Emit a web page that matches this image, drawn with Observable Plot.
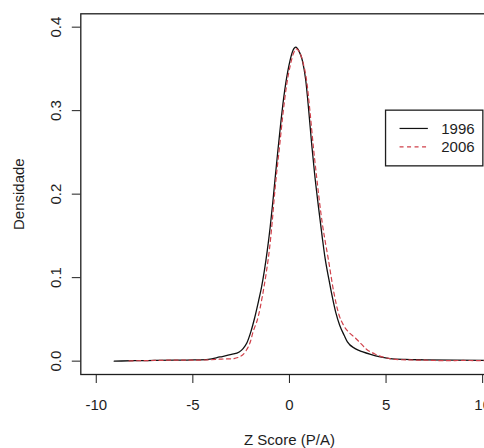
<!DOCTYPE html>
<html>
<head>
<meta charset="utf-8">
<script src="https://cdn.jsdelivr.net/npm/d3@7"></script>
<script src="https://cdn.jsdelivr.net/npm/@observablehq/plot@0.6"></script>
<style>
  html, body { margin: 0; padding: 0; background: #fff; }
  #chart { position: relative; width: 484px; height: 448px; overflow: hidden; }
</style>
</head>
<body>
<div id="chart"></div>
<script>
// Series names
const seriesNames = ["1996", "2006"];

// 1996 density curve (x = Z score, y = density)
const x1996 = [-9.07,-8,-7,-6,-5,-4.2,-3.6,-3.0,-2.6,-2.4,-2.2,-2.0,-1.8,-1.6,-1.45,-1.3,-1.15,-1.0,-0.85,-0.72,-0.6,-0.45,-0.3,-0.19,0.03,0.18,0.33,0.5,0.67,0.84,1.01,1.15,1.3,1.5,1.7,1.84,2.05,2.2,2.4,2.6,2.83,3.0,3.4,3.8,4.2,4.7,5.2,6,7,8.5,10.5,11];
const y1996 = [0,0.0005,0.0008,0.0011,0.0015,0.0022,0.005,0.008,0.011,0.015,0.022,0.035,0.052,0.072,0.088,0.108,0.132,0.16,0.193,0.224,0.252,0.285,0.315,0.333,0.36,0.372,0.376,0.371,0.36,0.337,0.297,0.26,0.225,0.185,0.148,0.124,0.097,0.079,0.058,0.043,0.031,0.023,0.015,0.011,0.008,0.005,0.003,0.002,0.0016,0.0012,0.0008,0.0007];

// 2006 density curve
const x2006 = [-8.3,-7,-6,-5,-4.2,-3.5,-3.0,-2.6,-2.26,-2.0,-1.91,-1.62,-1.4,-1.2,-1.03,-0.9,-0.75,-0.49,-0.35,-0.15,0.05,0.2,0.35,0.5,0.7,0.9,1.05,1.24,1.4,1.7,1.93,2.02,2.3,2.57,2.8,3.1,3.4,3.7,4.0,4.4,5.2,6,7,8,9,10.5,11];
const y2006 = [0.0003,0.0008,0.0012,0.0012,0.0015,0.0025,0.0028,0.005,0.012,0.025,0.033,0.053,0.078,0.106,0.135,0.165,0.205,0.262,0.293,0.33,0.355,0.368,0.374,0.371,0.358,0.334,0.302,0.256,0.222,0.165,0.133,0.121,0.082,0.055,0.043,0.034,0.028,0.021,0.014,0.0088,0.003,0.0015,0.0012,0.0005,0.0008,0.0005,0.0005];

// Axis ticks and labels
const xTicks = [-10, -5, 0, 5, 10];
const yTicks = [0, 0.1, 0.2, 0.3, 0.4];
const xLabel = "Z Score (P/A)";
const yLabel = "Densidade";
const legendAnchor = [5, 0.3]; // legend top-left in data units

const data = [
  ...x1996.map((x, i) => ({x, y: y1996[i], s: seriesNames[0]})),
  ...x2006.map((x, i) => ({x, y: y2006[i], s: seriesNames[1]}))
];

const font = "'Liberation Sans', Arial, Helvetica, sans-serif";
const ink = "#1e1e1e";
const red = "#d0404a";

const plot = Plot.plot({
  width: 484,
  height: 448,
  marginLeft: 80.3,
  marginRight: -13.6,
  marginTop: 13.3,
  marginBottom: 74,
  style: {fontFamily: font, fontSize: "15px", color: ink, background: "#fff"},
  x: {domain: [-10.8, 10.8]},
  y: {domain: [-0.016, 0.416]},
  marks: [
    Plot.line(data.filter(d => d.s === seriesNames[0]), {x: "x", y: "y", stroke: "#111", strokeWidth: 1.3, curve: "monotone-x", clip: true}),
    Plot.line(data.filter(d => d.s === seriesNames[1]), {x: "x", y: "y", stroke: red, strokeWidth: 1.2, strokeDasharray: "4,3.5", curve: "monotone-x", clip: true}),
    Plot.frame({stroke: ink, strokeWidth: 1.3}),
    Plot.axisX({ticks: xTicks, tickSize: 9, tickPadding: 16, fontSize: 15, label: null, stroke: ink, fill: ink, tickFormat: d => String(d).replace("−", "-")}),
    Plot.axisY({ticks: yTicks, tickSize: 8.5, label: null, stroke: ink, tickFormat: () => ""}),
    Plot.text(yTicks, {y: d => d, text: d => d.toFixed(1), frameAnchor: "left", rotate: -90, dx: -25, textAnchor: "middle", lineAnchor: "middle", fontSize: 15, fill: ink}),
    Plot.text([xLabel], {text: d => d, frameAnchor: "bottom", dy: 65.5, lineAnchor: "middle", fontSize: 15, fill: ink}),
    Plot.text([yLabel], {text: d => d, frameAnchor: "left", rotate: -90, dx: -62, lineAnchor: "middle", textAnchor: "middle", fontSize: 15, fill: ink})
  ]
});

document.getElementById("chart").appendChild(plot);

// Legend drawn relative to the plot's own scales
const sx = plot.scale("x"), sy = plot.scale("y");
const lx = sx.apply(legendAnchor[0]), ly = sy.apply(legendAnchor[1]);
const svg = d3.select(plot);
const g = svg.append("g").attr("font-family", font).attr("font-size", 15).attr("text-anchor", "start");
g.append("rect").attr("x", lx).attr("y", ly).attr("width", 97.3).attr("height", 55.7)
  .attr("fill", "#fff").attr("stroke", ink).attr("stroke-width", 1.3);
const rows = [
  {name: seriesNames[0], stroke: "#111", dash: null},
  {name: seriesNames[1], stroke: red, dash: "4,3.5"}
];
rows.forEach((r, i) => {
  const yy = ly + 18.3 + i * 18.4;
  g.append("line").attr("x1", lx + 14).attr("x2", lx + 42.3).attr("y1", yy).attr("y2", yy)
    .attr("stroke", r.stroke).attr("stroke-width", 1.2).attr("stroke-dasharray", r.dash);
  g.append("text").attr("x", lx + 55.7).attr("y", yy).attr("dy", "0.35em").attr("fill", ink)
    .attr("text-anchor", "start").text(r.name);
});
</script>
</body>
</html>
